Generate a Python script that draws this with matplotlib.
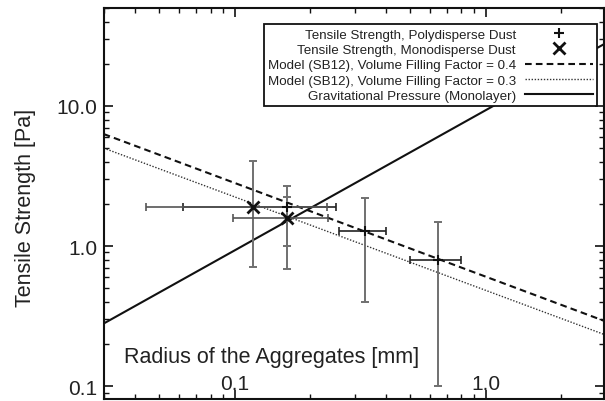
import numpy as np
from matplotlib import pyplot as plt
from matplotlib.ticker import FixedLocator, FixedFormatter, LogLocator, NullFormatter

plt.rcParams['font.family'] = ['Liberation Sans', 'DejaVu Sans']

# polydisperse dust: radius [mm], tensile strength [Pa], error bounds
poly_r = [0.161, 0.330, 0.645]
poly_s = [1.89, 1.29, 0.794]
poly_r_lo = [0.0622, 0.260, 0.501]
poly_r_hi = [0.254, 0.400, 0.800]
poly_s_lo = [0.69, 0.396, 0.100]
poly_s_hi = [2.70, 2.19, 1.48]

# monodisperse dust
mono_r = [0.1176, 0.161]
mono_s = [1.89, 1.58]
mono_r_lo = [0.0441, 0.098]
mono_r_hi = [0.232, 0.236]
mono_s_lo = [0.705, 1.00]
mono_s_hi = [4.07, 2.23]

# model / gravity lines (end points, straight on log-log)
line_r = [0.03, 3.0]
model04_s = [6.3, 0.29]
model03_s = [5.0, 0.232]
grav_s = [0.28, 28.0]

xtick_vals = [0.1, 1.0]
xtick_labels = ["0.1", "1.0"]
ytick_vals = [0.1, 1.0, 10.0]
ytick_labels = ["0.1", "1.0", "10.0"]

legend_labels = ["Tensile Strength, Polydisperse Dust",
                 "Tensile Strength, Monodisperse Dust",
                 "Model (SB12), Volume Filling Factor = 0.4",
                 "Model (SB12), Volume Filling Factor = 0.3",
                 "Gravitational Pressure (Monolayer)"]


def bounds_to_err(v, lo, hi):
    v = np.array(v)
    return [v - np.array(lo), np.array(hi) - v]


fig = plt.figure(figsize=(6.05, 4.02), dpi=100)
ax = fig.add_axes([103.7 / 605, 2 / 402, 500 / 605, 391 / 402])
ax.set_xscale('log')
ax.set_yscale('log')

# lines
l04, = ax.plot(line_r, model04_s, color='#111111', lw=1.5, dashes=(3.2, 2.0))
l03, = ax.plot(line_r, model03_s, color='#333333', lw=1.0, linestyle=(0, (1, 1.2)))
lgr, = ax.plot(line_r, grav_s, color='#111111', lw=1.5)

# error bars: x errors dark, y errors gray
gray = '#707070'
ax.errorbar(poly_r, poly_s, yerr=bounds_to_err(poly_s, poly_s_lo, poly_s_hi),
            fmt='none', ecolor=gray, elinewidth=1.4, capsize=3, capthick=1.4, zorder=3)
ax.errorbar(poly_r, poly_s, xerr=bounds_to_err(poly_r, poly_r_lo, poly_r_hi),
            fmt='none', ecolor='#222222', elinewidth=1.2, capsize=3, capthick=1.2, zorder=3)
ax.errorbar(mono_r, mono_s, yerr=bounds_to_err(mono_s, mono_s_lo, mono_s_hi),
            fmt='none', ecolor=gray, elinewidth=1.4, capsize=3, capthick=1.4, zorder=3)
ax.errorbar(mono_r, mono_s, xerr=bounds_to_err(mono_r, mono_r_lo, mono_r_hi),
            fmt='none', ecolor='#555555', elinewidth=1.2, capsize=3, capthick=1.2, zorder=3)

pp, = ax.plot(poly_r, poly_s, '+', color='#111111', ms=7, mew=1.5, zorder=4)
pm, = ax.plot(mono_r, mono_s, 'x', color='#111111', ms=8, mew=2, zorder=4)

ax.set_xlim(0.03, 2.95)
ax.set_ylim(0.081, 50)

ax.xaxis.set_major_locator(FixedLocator(xtick_vals))
ax.xaxis.set_major_formatter(FixedFormatter(xtick_labels))
ax.yaxis.set_major_locator(FixedLocator(ytick_vals))
ax.yaxis.set_major_formatter(FixedFormatter(ytick_labels))
ax.xaxis.set_minor_locator(LogLocator(base=10, subs=np.arange(2, 10)))
ax.yaxis.set_minor_locator(LogLocator(base=10, subs=np.arange(2, 10)))
ax.xaxis.set_minor_formatter(NullFormatter())
ax.yaxis.set_minor_formatter(NullFormatter())

ax.tick_params(which='both', direction='in', top=True, right=True,
               color='#111111', labelsize=15, labelcolor='#222222')
ax.tick_params(which='major', length=6.7, width=1.2)
ax.tick_params(which='minor', length=3.6, width=1.0)
ax.tick_params(axis='y', pad=4.8)
ax.tick_params(axis='x', pad=-17.8)
for s in ax.spines.values():
    s.set_linewidth(1.5)
    s.set_color('#111111')

ax.set_ylabel("Tensile Strength [Pa]", fontsize=15.5, color='#222222')
ax.yaxis.set_label_coords(-0.135, 0.492)
ax.set_xlabel("Radius of the Aggregates [mm]", fontsize=15.5, color='#222222')
ax.xaxis.set_label_coords(0.336, 0.094)
ax.xaxis.label.set_verticalalignment('baseline')

leg = ax.legend([pp, pm, l04, l03, lgr], legend_labels, loc='upper right',
                bbox_to_anchor=(0.987, 0.958), borderaxespad=0, markerfirst=False,
                fontsize=9.6, fancybox=False, framealpha=1, edgecolor='#111111',
                handlelength=5.1, handletextpad=0.7, borderpad=0.3,
                labelspacing=0.22, handleheight=0.7)
leg.get_frame().set_linewidth(1.3)
for t in leg.get_texts():
    t.set_color('#222222')

fig.savefig('out.png', dpi=100)
